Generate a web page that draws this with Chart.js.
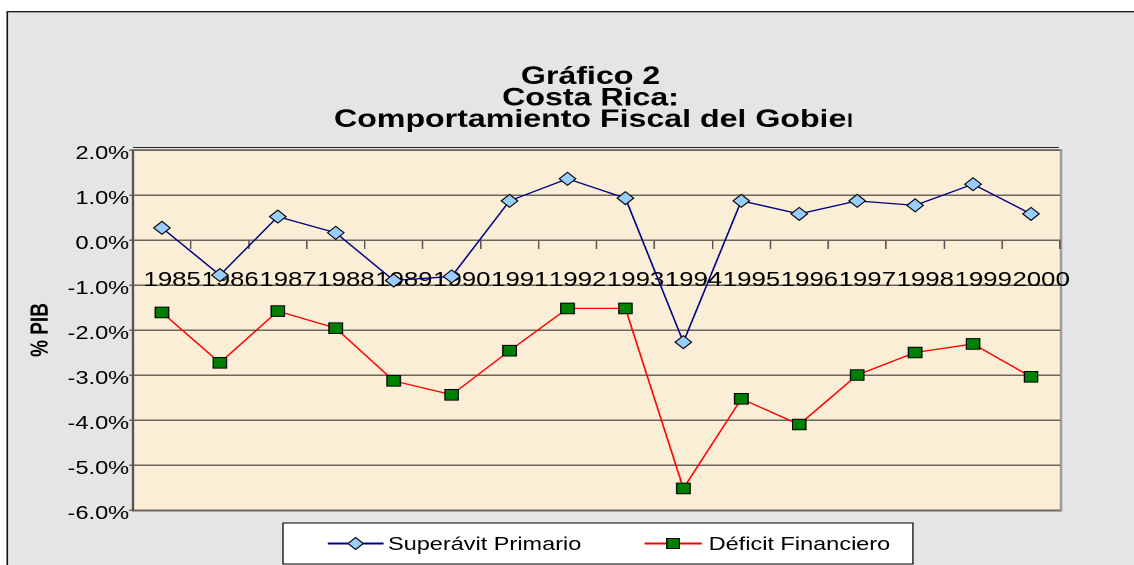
<!DOCTYPE html>
<html>
<head>
<meta charset="utf-8">
<title>Gráfico 2</title>
<script src="https://cdn.jsdelivr.net/npm/chart.js@4/dist/chart.umd.min.js"></script>
<style>
  html, body { margin: 0; padding: 0; background: #fff; overflow: hidden; }
  /* the original picture is stretched sideways, so the chart is too */
  #wrap { width: 893px; height: 565px; transform: scaleX(1.27); transform-origin: 0 0; }
</style>
</head>
<body>
<div id="wrap"><canvas id="grafico"></canvas></div>
<script>
const years = ['1985', '1986', '1987', '1988', '1989', '1990', '1991', '1992',
  '1993', '1994', '1995', '1996', '1997', '1998', '1999', '2000'];
const superavitPrimario = [0.27, -0.78, 0.52, 0.16, -0.90, -0.81, 0.87, 1.36,
  0.93, -2.27, 0.87, 0.58, 0.87, 0.77, 1.24, 0.58];
const deficitFinanciero = [-1.61, -2.73, -1.58, -1.96, -3.13, -3.44, -2.46, -1.52,
  -1.52, -5.52, -3.53, -4.10, -3.00, -2.50, -2.31, -3.04];
const yMin = -6;
const yMax = 2;
const yStep = 1;
const titleLines = ['Gráfico 2', 'Costa Rica:', 'Comportamiento Fiscal del Gobier'];

const FONT = 'Arial, "Liberation Sans", sans-serif';

const fondo = {
  id: 'fondo',
  beforeDraw(chart) {
    const { ctx, width, height, chartArea: a } = chart;
    ctx.save();
    ctx.fillStyle = '#fff';
    ctx.fillRect(0, 0, width, height);
    ctx.fillStyle = '#e5e5e5';
    ctx.fillRect(5.75, 11.7, width, height);
    ctx.strokeStyle = '#000';
    ctx.lineWidth = 1.2;
    ctx.strokeRect(5.75, 11.7, width + 20, height + 20);

    // plot area
    ctx.fillStyle = '#fbeed6';
    ctx.fillRect(a.left, a.top, a.right - a.left, a.bottom - a.top);
    ctx.strokeStyle = '#9a9a9a';
    ctx.lineWidth = 2;
    ctx.strokeRect(a.left, a.top, a.right - a.left + 0.8, a.bottom - a.top + 0.8);
    ctx.strokeStyle = '#222';
    ctx.lineWidth = 1;
    ctx.beginPath();
    ctx.moveTo(a.left, a.top - 2.5);
    ctx.lineTo(a.right - 1, a.top - 2.5);
    ctx.stroke();
    ctx.restore();
  }
};

// title block, last line is cut off like in the original
const titulo = {
  id: 'titulo',
  afterDraw(chart) {
    const { ctx } = chart;
    ctx.save();
    ctx.fillStyle = '#000';
    ctx.font = 'bold 25.3px ' + FONT;
    ctx.textBaseline = 'alphabetic';
    ctx.textAlign = 'center';
    ctx.fillText(titleLines[0], 465, 84);
    ctx.fillText(titleLines[1], 465, 105.5);

    const x0 = 263;
    const shown = ctx.measureText(titleLines[2].slice(0, -1)).width + 4;
    ctx.beginPath();
    ctx.rect(x0 - 5, 100, shown + 5, 40);
    ctx.clip();
    ctx.textAlign = 'left';
    ctx.fillText(titleLines[2], x0, 127);
    ctx.restore();
  }
};

function drawMarker(ctx, style, x, y, r, fill) {
  ctx.beginPath();
  if (style === 'rectRot') {
    ctx.moveTo(x - r, y);
    ctx.lineTo(x, y - r);
    ctx.lineTo(x + r, y);
    ctx.lineTo(x, y + r);
    ctx.closePath();
  } else {
    const s = r * Math.SQRT1_2;
    ctx.rect(x - s, y - s, 2 * s, 2 * s);
  }
  ctx.fillStyle = fill;
  ctx.fill();
  ctx.strokeStyle = '#000';
  ctx.lineWidth = 1;
  ctx.stroke();
}

const leyenda = {
  id: 'leyenda',
  afterDraw(chart) {
    const { ctx } = chart;
    const items = [
      { lineFrom: 258, lineTo: 302, textX: 305.5 },
      { lineFrom: 507.5, lineTo: 552.5, textX: 558 }
    ];
    const y = 543.5;
    ctx.save();
    ctx.fillStyle = '#fff';
    ctx.fillRect(222.8, 523, 496, 41);
    ctx.strokeStyle = '#000';
    ctx.lineWidth = 1;
    ctx.strokeRect(222.8, 523, 496, 41);

    chart.data.datasets.forEach((ds, i) => {
      const it = items[i];
      ctx.strokeStyle = ds.borderColor;
      ctx.lineWidth = 2;
      ctx.beginPath();
      ctx.moveTo(it.lineFrom, y);
      ctx.lineTo(it.lineTo, y);
      ctx.stroke();
      drawMarker(ctx, ds.pointStyle, (it.lineFrom + it.lineTo) / 2, y,
        ds.pointRadius - 0.5, ds.pointBackgroundColor);
      ctx.fillStyle = '#000';
      ctx.font = '18.5px ' + FONT;
      ctx.textBaseline = 'middle';
      ctx.textAlign = 'left';
      ctx.fillText(ds.label, it.textX, y + 1.5);
    });
    ctx.restore();
  }
};

new Chart(document.getElementById('grafico'), {
  type: 'line',
  data: {
    labels: years,
    datasets: [
      {
        label: 'Superávit Primario',
        data: superavitPrimario,
        borderColor: '#000080',
        borderWidth: 1.3,
        pointStyle: 'rectRot',
        pointRadius: 6.5,
        pointBackgroundColor: '#99ccff',
        pointBorderColor: '#000',
        pointBorderWidth: 1,
        tension: 0
      },
      {
        label: 'Déficit Financiero',
        data: deficitFinanciero,
        borderColor: '#ff0000',
        borderWidth: 1.3,
        pointStyle: 'rect',
        pointRadius: 7.5,
        pointBackgroundColor: '#008000',
        pointBorderColor: '#000',
        pointBorderWidth: 1,
        tension: 0
      }
    ]
  },
  options: {
    responsive: true,
    maintainAspectRatio: false,
    devicePixelRatio: 2,
    animation: false,
    events: [],
    layout: { padding: { top: 150, bottom: 55, left: 0, right: 58.4 } },
    plugins: {
      legend: { display: false },
      title: { display: false },
      tooltip: { enabled: false }
    },
    scales: {
      x: {
        position: { y: 0 },
        offset: true,
        grid: {
          offset: true,
          drawOnChartArea: false,
          drawTicks: true,
          tickLength: 8,
          color: '#555',
          lineWidth: 1.2
        },
        border: { display: true, color: '#6b655c', width: 1.5 },
        ticks: {
          autoSkip: false,
          maxRotation: 0,
          minRotation: 0,
          padding: 20,
          labelOffset: 8,
          color: '#000',
          font: { family: FONT, size: 20.3 }
        }
      },
      y: {
        min: yMin,
        max: yMax,
        afterFit(scale) { scale.width = 104.7; },
        grid: {
          color: '#6b655c',
          lineWidth: 1.5,
          tickLength: 3
        },
        border: { display: true, color: '#555', width: 1.5 },
        ticks: {
          stepSize: yStep,
          padding: 0,
          labelOffset: 4,
          color: '#000',
          font: { family: FONT, size: 18.6 },
          callback: v => v.toFixed(1) + '%'
        },
        title: {
          display: true,
          text: '% PIB',
          color: '#000',
          font: { family: FONT, size: 19, weight: 'bold' },
          padding: { top: 21, bottom: 0 }
        }
      }
    }
  },
  plugins: [fondo, titulo, leyenda]
});
</script>
</body>
</html>
